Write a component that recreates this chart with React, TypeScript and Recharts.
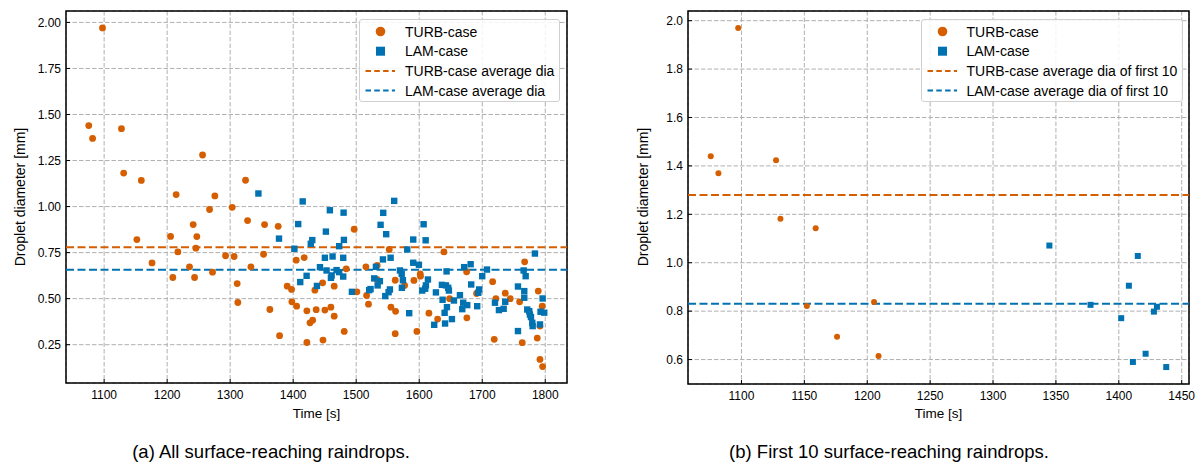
import { CartesianGrid, ReferenceArea, ReferenceLine, Scatter, ScatterChart, XAxis, YAxis } from "recharts";

const ORANGE = "#D55E00";
const BLUE = "#0072B2";
const FONT = "'Liberation Sans', Arial, sans-serif";

// TURB-case droplets (time [s], diameter [mm]), sorted by arrival time
const turbTime = [
  1075.6, 1081.7, 1097.4, 1127.5, 1131, 1152, 1159, 1176, 1205.4, 1209,
  1214.3, 1217, 1235.5, 1241.3, 1243.5, 1245.6, 1247.1, 1256.2, 1267.3, 1272,
  1275.7, 1292.7, 1303.2, 1306.3, 1311.1, 1312.2, 1324.4, 1327.6, 1332.9, 1353,
  1354.6, 1363, 1376.2, 1378.4, 1390.5, 1397.4, 1397.9, 1404.8, 1405.5, 1417.5,
  1421.7, 1421.7, 1426.7, 1430.9, 1434.4, 1436.5, 1446.7, 1447.3, 1450.3, 1459.8,
  1465.1, 1465.1, 1481, 1484.2, 1496.8, 1501.1, 1515.4, 1516.5, 1519.5, 1532.9,
  1533.3, 1552.4, 1555.1, 1561.9, 1561.9, 1562.5, 1576.8, 1591.6, 1596.3, 1601.6,
  1602, 1615.4, 1629.2, 1639.2, 1648.2, 1675.2, 1675.6, 1691, 1716.5, 1719,
  1721.7, 1736.5, 1744.4, 1759.3, 1763.5, 1767.3, 1787.3, 1788.9, 1791.6, 1791.6,
  1795.2, 1795.8,
];
const turbDia = [
  1.44, 1.37, 1.97, 1.423, 1.182, 0.821, 1.142, 0.694, 0.838, 0.615,
  1.065, 0.754, 0.673, 0.902, 0.615, 0.774, 0.837, 1.28, 0.984, 0.644,
  1.058, 0.733, 0.996, 0.729, 0.582, 0.479, 1.143, 0.924, 0.673, 0.741,
  0.902, 0.441, 0.893, 0.299, 0.568, 0.55, 0.483, 0.709, 0.459, 0.723,
  0.434, 0.262, 0.369, 0.383, 0.546, 0.44, 0.586, 0.275, 0.438, 0.454,
  0.568, 0.405, 0.322, 0.662, 0.877, 0.537, 0.673, 0.517, 0.47, 0.604,
  0.68, 0.767, 0.454, 0.6, 0.31, 0.431, 0.572, 0.599, 0.322, 0.634,
  0.622, 0.421, 0.389, 0.754, 0.5, 0.646, 0.396, 0.528, 0.592, 0.279,
  0.5, 0.53, 0.5, 0.483, 0.261, 0.7, 0.286, 0.541, 0.351, 0.17,
  0.459, 0.131,
];

// LAM-case droplets
const lamTime = [
  1344.8, 1377.5, 1401.9, 1408, 1411.2, 1415.1, 1421.3, 1427.9, 1430.3, 1437.7,
  1442.5, 1450.3, 1451.9, 1453, 1458.2, 1459.9, 1461, 1462.5, 1468.9, 1473,
  1473, 1479.4, 1479.4, 1480, 1480.5, 1493.2, 1520.6, 1522.8, 1528.6, 1531.3,
  1534, 1537.6, 1538.7, 1542.4, 1542.9, 1546.1, 1547.6, 1551.4, 1553.5, 1554.6,
  1560.3, 1569.4, 1572.2, 1572.5, 1574.1, 1581, 1584.1, 1590.5, 1590.5, 1599.5,
  1604.8, 1607, 1609.5, 1610.2, 1610.6, 1613.8, 1623.8, 1626.5, 1636, 1637.1,
  1640.3, 1641, 1642.4, 1643.4, 1644, 1646, 1647.1, 1651.9, 1655.1, 1664.6,
  1668.3, 1669.8, 1671.4, 1676.2, 1681.6, 1682.5, 1692, 1693.7, 1695.2, 1700,
  1707.5, 1720.2, 1726.5, 1734, 1736.5, 1756.7, 1756.7, 1765.7, 1766.7, 1766.7,
  1768.9, 1771.4, 1774.6, 1775.6, 1777.3, 1779.4, 1780, 1783.6, 1791.6, 1792.5,
  1795.8, 1798.4,
];
const lamDia = [
  1.071, 0.826, 0.771, 0.905, 0.59, 1.028, 0.624, 0.798, 0.818, 0.569,
  0.671, 0.722, 0.864, 0.653, 0.98, 0.613, 0.626, 0.729, 0.655, 0.785,
  0.644, 0.722, 0.62, 0.967, 0.819, 0.537, 0.546, 0.552, 0.61, 0.673,
  0.572, 0.595, 0.901, 0.713, 0.966, 0.514, 0.85, 0.535, 0.55, 0.722,
  1.031, 0.653, 0.635, 0.559, 0.6, 0.767, 0.421, 0.821, 0.695, 0.684,
  0.544, 0.904, 0.554, 0.817, 0.572, 0.604, 0.358, 0.534, 0.575, 0.494,
  0.423, 0.365, 0.572, 0.648, 0.454, 0.559, 0.544, 0.389, 0.49, 0.519,
  0.443, 0.478, 0.671, 0.465, 0.687, 0.577, 0.459, 0.532, 0.55, 0.622,
  0.658, 0.478, 0.438, 0.445, 0.483, 0.566, 0.324, 0.653, 0.541, 0.505,
  0.622, 0.441, 0.432, 0.414, 0.4, 0.369, 0.351, 0.745, 0.36, 0.429,
  0.501, 0.424,
];

const turbAvgAll = 0.779;
const lamAvgAll = 0.657;
const turbAvgFirst10 = 1.28;
const lamAvgFirst10 = 0.831;

const xTicksA = [1100, 1200, 1300, 1400, 1500, 1600, 1700, 1800];
const yTicksA = [0.25, 0.5, 0.75, 1.0, 1.25, 1.5, 1.75, 2.0];
const xTicksB = [1100, 1150, 1200, 1250, 1300, 1350, 1400, 1450];
const yTicksB = [0.6, 0.8, 1.0, 1.2, 1.4, 1.6, 1.8, 2.0];

const toPoints = (t: number[], d: number[]) => t.map((x, i) => ({ t: x, d: d[i] }));

const X_MARGIN = 7;
const Y_MARGIN = 5;

const XTick = (props: any) => {
  const { x, y, payload } = props;
  return (
    <g>
      <line x1={x} x2={x} y1={y - X_MARGIN} y2={y - X_MARGIN - 4} stroke="#000" strokeWidth={1} />
      <text x={x} y={y} dy="0.71em" textAnchor="middle" fontSize={12} fontFamily={FONT} fill="#000">
        {payload.value}
      </text>
    </g>
  );
};

const makeYTick = (digits: number) => (props: any) => {
  const { x, y, payload } = props;
  return (
    <g>
      <line x1={x + Y_MARGIN} x2={x + Y_MARGIN + 4} y1={y} y2={y} stroke="#000" strokeWidth={1} />
      <text x={x} y={y} dy="0.35em" textAnchor="end" fontSize={12} fontFamily={FONT} fill="#000">
        {Number(payload.value).toFixed(digits)}
      </text>
    </g>
  );
};

const Dot = (r: number) => (p: any) => <circle cx={p.cx} cy={p.cy} r={r} fill={ORANGE} />;
const Sq = (s: number) => (p: any) => (
  <rect x={p.cx - s / 2} y={p.cy - s / 2} width={s} height={s} fill={BLUE} />
);

type PanelProps = {
  left: number;
  plotBottom: number;
  xDomain: [number, number];
  yDomain: [number, number];
  xTicks: number[];
  yTicks: number[];
  digits: number;
  turb: { t: number; d: number }[];
  lam: { t: number; d: number }[];
  turbAvg: number;
  lamAvg: number;
  dotR: number;
  sq: number;
};

const CHART_H = 420;

function Panel(p: PanelProps) {
  return (
    <div style={{ position: "absolute", left: p.left, top: 0 }}>
      <ScatterChart width={600} height={CHART_H} margin={{ top: 11, right: 33, bottom: 0, left: 0 }}>
        <CartesianGrid stroke="#b0b0b0" strokeDasharray="4.5 2" strokeWidth={1} />
        <XAxis
          dataKey="t"
          type="number"
          domain={p.xDomain}
          ticks={p.xTicks}
          allowDataOverflow
          height={CHART_H - p.plotBottom}
          tickSize={0}
          tickMargin={X_MARGIN}
          axisLine={false}
          tick={XTick}
        />
        <YAxis
          dataKey="d"
          type="number"
          domain={p.yDomain}
          ticks={p.yTicks}
          allowDataOverflow
          width={66}
          tickSize={0}
          tickMargin={Y_MARGIN}
          axisLine={false}
          tick={makeYTick(p.digits)}
        />
        <ReferenceLine y={p.turbAvg} stroke={ORANGE} strokeWidth={2} strokeDasharray="8 3.5" />
        <ReferenceLine y={p.lamAvg} stroke={BLUE} strokeWidth={2} strokeDasharray="8 3.5" />
        <Scatter data={p.turb} shape={Dot(p.dotR)} isAnimationActive={false} />
        <Scatter data={p.lam} shape={Sq(p.sq)} isAnimationActive={false} />
        <ReferenceArea
          x1={p.xDomain[0]}
          x2={p.xDomain[1]}
          y1={p.yDomain[0]}
          y2={p.yDomain[1]}
          fill="none"
          fillOpacity={0}
          stroke="#000"
          strokeWidth={1.5}
          ifOverflow="visible"
        />
      </ScatterChart>
    </div>
  );
}

function LegendBox({ left, width, labels }: { left: number; width: number; labels: string[] }) {
  const row = (i: number) => 11.5 + i * 19.7;
  return (
    <div
      style={{
        position: "absolute",
        left,
        top: 19,
        width,
        height: 83,
        border: "1px solid #d0d0d0",
        borderRadius: 3,
        background: "rgba(255,255,255,0.85)",
        boxSizing: "border-box",
        fontFamily: FONT,
        fontSize: 14,
      }}
    >
      <svg width={40} height={83} style={{ position: "absolute", left: 0, top: 0 }}>
        <circle cx={20.5} cy={row(0)} r={4.8} fill={ORANGE} />
        <rect x={16} y={row(1) - 4.5} width={9} height={9} fill={BLUE} />
        <line x1={5.5} x2={35} y1={row(2)} y2={row(2)} stroke={ORANGE} strokeWidth={2} strokeDasharray="5.5 3.3" />
        <line x1={5.5} x2={35} y1={row(3)} y2={row(3)} stroke={BLUE} strokeWidth={2} strokeDasharray="5.5 3.3" />
      </svg>
      {labels.map((s, i) => (
        <div
          key={s}
          style={{ position: "absolute", left: 45, top: row(i) - 9, lineHeight: "18px", whiteSpace: "nowrap" }}
        >
          {s}
        </div>
      ))}
    </div>
  );
}

const textStyle = { position: "absolute" as const, fontFamily: FONT, color: "#000", whiteSpace: "nowrap" as const };

export default function App() {
  const turbAll = toPoints(turbTime, turbDia);
  const lamAll = toPoints(lamTime, lamDia);
  const turb10 = turbAll.slice(0, 10);
  const lam10 = lamAll.slice(0, 10);
  return (
    <div style={{ position: "absolute", left: 0, top: 0, width: 1199, height: 464, background: "#fff" }}>
      <Panel
        left={0}
        plotBottom={383}
        xDomain={[1039.5, 1834.5]}
        yDomain={[0.042, 2.062]}
        xTicks={xTicksA}
        yTicks={yTicksA}
        digits={2}
        turb={turbAll}
        lam={lamAll}
        turbAvg={turbAvgAll}
        lamAvg={lamAvgAll}
        dotR={3.4}
        sq={6.4}
      />
      <Panel
        left={622}
        plotBottom={384}
        xDomain={[1057.5, 1455.8]}
        yDomain={[0.499, 2.04]}
        xTicks={xTicksB}
        yTicks={yTicksB}
        digits={1}
        turb={turb10}
        lam={lam10}
        turbAvg={turbAvgFirst10}
        lamAvg={lamAvgFirst10}
        dotR={3}
        sq={6}
      />
      <LegendBox
        left={359}
        width={201}
        labels={["TURB-case", "LAM-case", "TURB-case average dia", "LAM-case average dia"]}
      />
      <LegendBox
        left={920.5}
        width={262}
        labels={["TURB-case", "LAM-case", "TURB-case average dia of first 10", "LAM-case average dia of first 10"]}
      />
      <div style={{ ...textStyle, left: 316.5, top: 413, fontSize: 13.5, transform: "translate(-50%,-50%)" }}>Time [s]</div>
      <div style={{ ...textStyle, left: 938.5, top: 413, fontSize: 13.5, transform: "translate(-50%,-50%)" }}>Time [s]</div>
      <div style={{ ...textStyle, left: 20, top: 197, fontSize: 14, transform: "translate(-50%,-50%) rotate(-90deg)" }}>
        Droplet diameter [mm]
      </div>
      <div style={{ ...textStyle, left: 643, top: 197, fontSize: 14, transform: "translate(-50%,-50%) rotate(-90deg)" }}>
        Droplet diameter [mm]
      </div>
      <div style={{ ...textStyle, left: 271, top: 452, fontSize: 18.5, transform: "translate(-50%,-50%)" }}>
        (a) All surface-reaching raindrops.
      </div>
      <div style={{ ...textStyle, left: 889, top: 452, fontSize: 18.5, transform: "translate(-50%,-50%)" }}>
        (b) First 10 surface-reaching raindrops.
      </div>
    </div>
  );
}
